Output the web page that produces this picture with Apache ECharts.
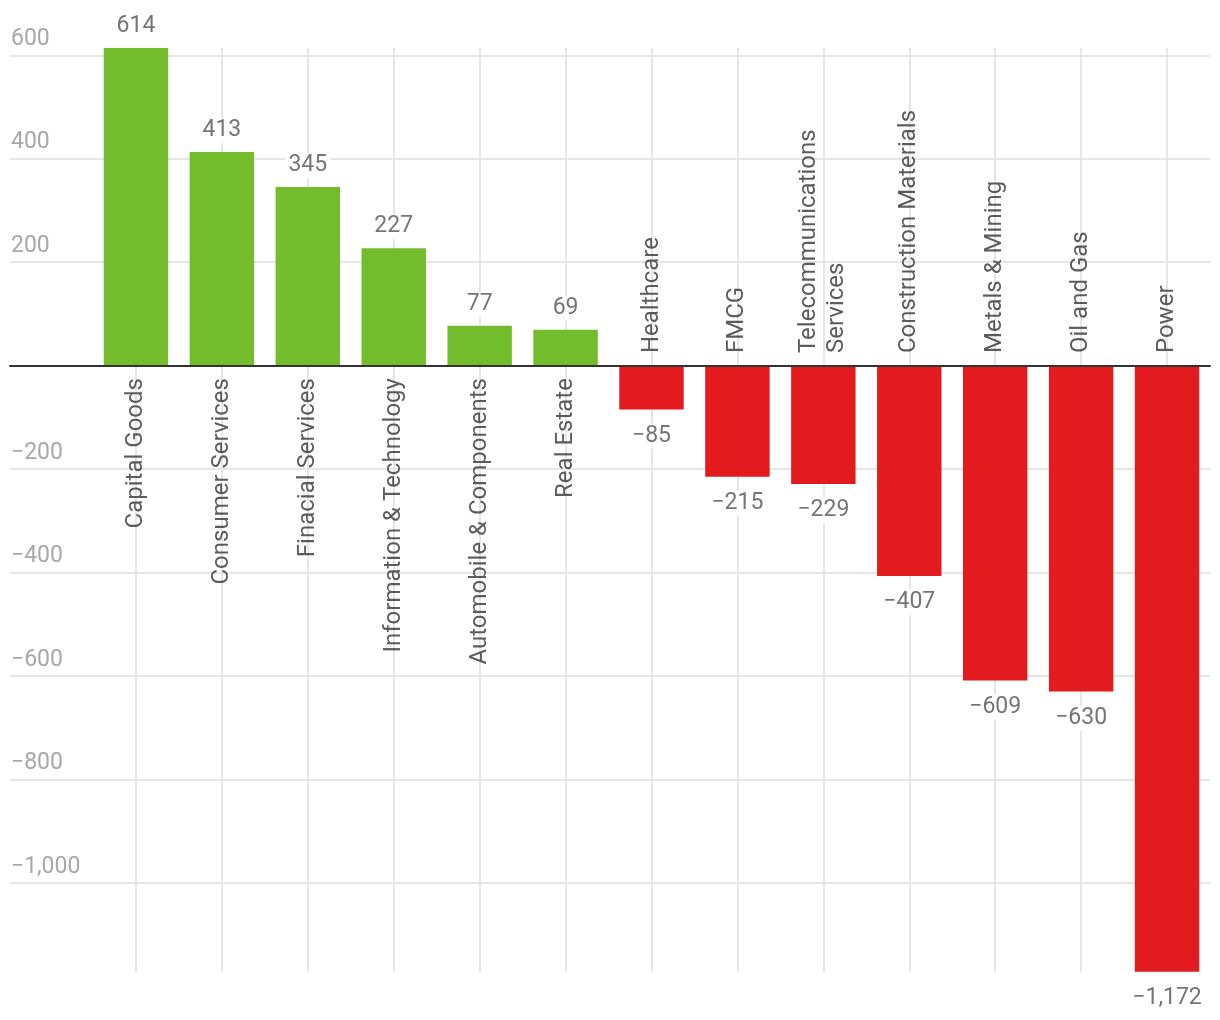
<!DOCTYPE html>
<html>
<head>
<meta charset="utf-8">
<title>Sector flows</title>
<script src="https://cdn.jsdelivr.net/npm/echarts@6/dist/echarts.min.js"></script>
<style>
html, body { margin: 0; padding: 0; background: #fff; }
#container { width: 1220px; height: 1020px; }
</style>
</head>
<body>
<div id="container"></div>
<script>
var categories = ['Capital Goods', 'Consumer Services', 'Finacial Services', 'Information & Technology',
	'Automobile & Components', 'Real Estate', 'Healthcare', 'FMCG', 'Telecommunications\nServices',
	'Construction Materials', 'Metals & Mining', 'Oil and Gas', 'Power'];
var values = [614, 413, 345, 227, 77, 69, -85, -215, -229, -407, -609, -630, -1172];
// y axis ticks: -1200 .. 600 step 200 (0 and -1200 not labelled)
var yMin = -1200;
var yMax = 600;
var yStep = 200;

var GREEN = '#73bd2c';
var RED = '#e31b1e';

function fmt(v) {
	var s = Math.abs(v).toLocaleString('en-US');
	return v < 0 ? '\u2212' + s : s;
}

function columns() {
	var dom = document.getElementById('container');
	var myChart = echarts.init(dom);

	var barData = values.map(function (v) {
		return { value: v, label: { position: v >= 0 ? 'top' : 'bottom', distance: v >= 0 ? 9 : 14 } };
	});
	// category names sit on the zero line, on the side away from the bar
	var nameData = categories.map(function (c, i) {
		var pos = values[i] >= 0;
		return {
			value: [i, 0],
			label: {
				position: pos ? 'bottom' : 'top',
				align: pos ? 'right' : 'left'
			}
		};
	});

	var option = {
		animation: false,
		textStyle: { fontFamily: 'Roboto' },
		grid: [
			{ left: 10, right: 10, top: 55.3, bottom: 33.8 },  // gridlines + tick labels
			{ left: 93, right: 10, top: 48, bottom: 48.3 }     // bars
		],
		xAxis: [{
			gridIndex: 0,
			type: 'category',
			data: [''],
			z: 3,
			axisLine: { onZero: true, lineStyle: { color: '#333', width: 2 } },
			axisTick: { show: false },
			axisLabel: { show: false },
			splitLine: { show: false }
		}, {
			gridIndex: 1,
			type: 'category',
			data: categories,
			show: false
		}],
		yAxis: [{
			gridIndex: 0,
			type: 'value',
			min: yMin,
			max: yMax,
			interval: yStep,
			axisLine: { show: false },
			axisTick: { show: false },
			axisLabel: {
				inside: true,
				margin: 1,
				showMinLabel: false,
				verticalAlign: 'bottom',
				padding: [0, 0, 4.5, 0],
				color: '#a8a8a8',
				fontSize: 23,
				formatter: function (v) { return v === 0 ? '' : fmt(v); }
			},
			splitLine: { showMinLine: false, lineStyle: { color: '#e6e6e6', width: 2 } }
		}, {
			gridIndex: 1,
			type: 'value',
			min: 'dataMin',
			max: 'dataMax',
			show: false
		}],
		series: [{
			type: 'bar',
			xAxisIndex: 1,
			yAxisIndex: 1,
			data: barData,
			barCategoryGap: '25%',
			itemStyle: {
				color: function (p) { return p.value >= 0 ? GREEN : RED; }
			},
			label: {
				show: true,
				color: '#757575',
				fontSize: 23,
				backgroundColor: '#fff',
				padding: [1, 3],
				formatter: function (p) { return fmt(p.value); }
			},
			markLine: {
				z: 1,
				silent: true,
				symbol: ['none', 'none'],
				label: { show: false },
				lineStyle: { color: '#e6e6e6', width: 2, type: 'solid' },
				data: categories.map(function (c) { return { xAxis: c }; })
			}
		}, {
			type: 'scatter',
			xAxisIndex: 1,
			yAxisIndex: 1,
			silent: true,
			symbolSize: 1,
			itemStyle: { color: 'rgba(0,0,0,0)' },
			data: nameData,
			label: {
				show: true,
				rotate: 90,
				distance: 12,
				verticalAlign: 'middle',
				color: '#333',
				fontSize: 24,
				lineHeight: 28,
				formatter: function (p) { return categories[p.dataIndex]; }
			}
		}]
	};
	myChart.setOption(option, true);
}

columns();
</script>
</body>
</html>
